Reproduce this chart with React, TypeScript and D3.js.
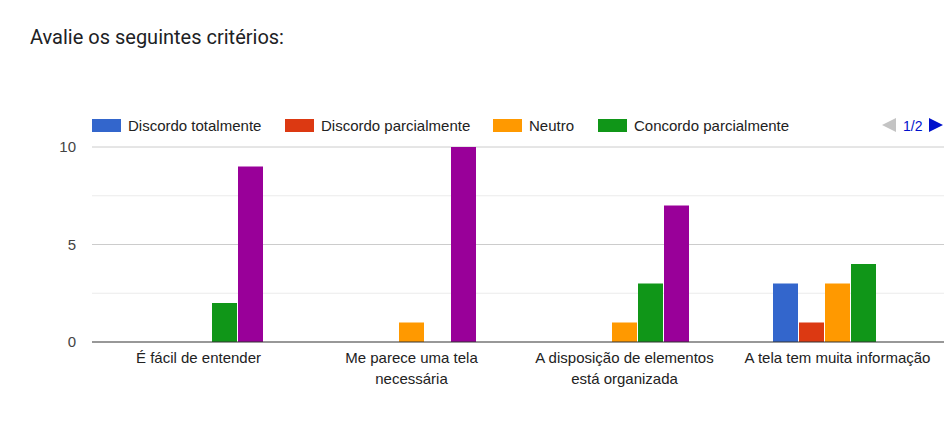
import React from 'react';
import * as d3 from 'd3';

// categories and series
const categories = [
  ['É fácil de entender'],
  ['Me parece uma tela', 'necessária'],
  ['A disposição de elementos', 'está organizada'],
  ['A tela tem muita informação'],
];
const seriesNames = [
  'Discordo totalmente',
  'Discordo parcialmente',
  'Neutro',
  'Concordo parcialmente',
  'Concordo totalmente',
];
const seriesColors = ['#3366cc', '#dc3912', '#ff9900', '#109618', '#990099'];
const values = [
  [0, 0, 0, 2, 9],
  [0, 0, 1, 0, 10],
  [0, 0, 1, 3, 7],
  [3, 1, 3, 4, 0],
];
const yTicks = [0, 5, 10];
const minorTicks = [2.5, 7.5];

const W = 949;
const H = 422;
const left = 92;
const right = 944;
const top = 147;
const bottom = 342;
const groupWidth = 130;
const font = 'Arial, "Liberation Sans", sans-serif';

export default function App() {
  const x0 = d3.scaleBand<number>().domain(d3.range(categories.length)).range([left, right]).padding(0);
  const x1 = d3.scaleBand<number>().domain(d3.range(seriesNames.length)).range([0, groupWidth]).padding(0);
  const y = d3.scaleLinear().domain([0, 10]).range([bottom, top]);

  // legend placement (first page shows four entries)
  const legendX = [92, 285, 493, 598];

  return (
    <svg width={W} height={H} style={{ position: 'absolute', left: 0, top: 0, background: '#fff' }}>
      <text x={30} y={44} fontFamily='Roboto, "Noto Sans", sans-serif' fontSize={20} fill="#202124">
        Avalie os seguintes critérios:
      </text>

      {/* legend */}
      {legendX.map((lx, i) => (
        <g key={i} transform={`translate(${lx},119)`}>
          <rect width={29} height={13} fill={seriesColors[i]} />
          <text x={36} y={12} fontFamily={font} fontSize={15} fill="#222">
            {seriesNames[i]}
          </text>
        </g>
      ))}
      <path d="M882,125 L896,118 L896,132 Z" fill="#c4c4c4" />
      <text x={903} y={130.5} fontFamily={font} fontSize={14} fill="#0011cc">1/2</text>
      <path d="M943,125 L929,118 L929,132 Z" fill="#0011cc" />

      {/* grid */}
      {minorTicks.map(t => (
        <line key={t} x1={left} x2={right} y1={y(t)} y2={y(t)} stroke="#ebebeb" />
      ))}
      {yTicks.map(t => (
        <g key={t}>
          {t !== 0 && <line x1={left} x2={right} y1={y(t)} y2={y(t)} stroke="#cccccc" />}
          <text x={76} y={y(t) + 5} textAnchor="end" fontFamily={font} fontSize={15} fill="#444">
            {t}
          </text>
        </g>
      ))}

      {/* bars */}
      {values.map((row, ci) => {
        const gx = x0(ci)! + (x0.bandwidth() - groupWidth) / 2;
        return (
          <g key={ci} transform={`translate(${gx},0)`}>
            {row.map((v, si) => (
              <rect
                key={si}
                x={x1(si)! + 0.5}
                y={y(v)}
                width={x1.bandwidth() - 1}
                height={Math.max(0, y(0) - y(v))}
                fill={seriesColors[si]}
              />
            ))}
          </g>
        );
      })}

      <line x1={left} x2={right} y1={y(0)} y2={y(0)} stroke="#333" strokeWidth={1.2} />

      {/* category labels */}
      {categories.map((lines, ci) => (
        <text
          key={ci}
          x={x0(ci)! + x0.bandwidth() / 2}
          y={363}
          textAnchor="middle"
          fontFamily={font}
          fontSize={15}
          fill="#222"
        >
          {lines.map((l, li) => (
            <tspan key={li} x={x0(ci)! + x0.bandwidth() / 2} dy={li === 0 ? 0 : 21}>
              {l}
            </tspan>
          ))}
        </text>
      ))}
    </svg>
  );
}
